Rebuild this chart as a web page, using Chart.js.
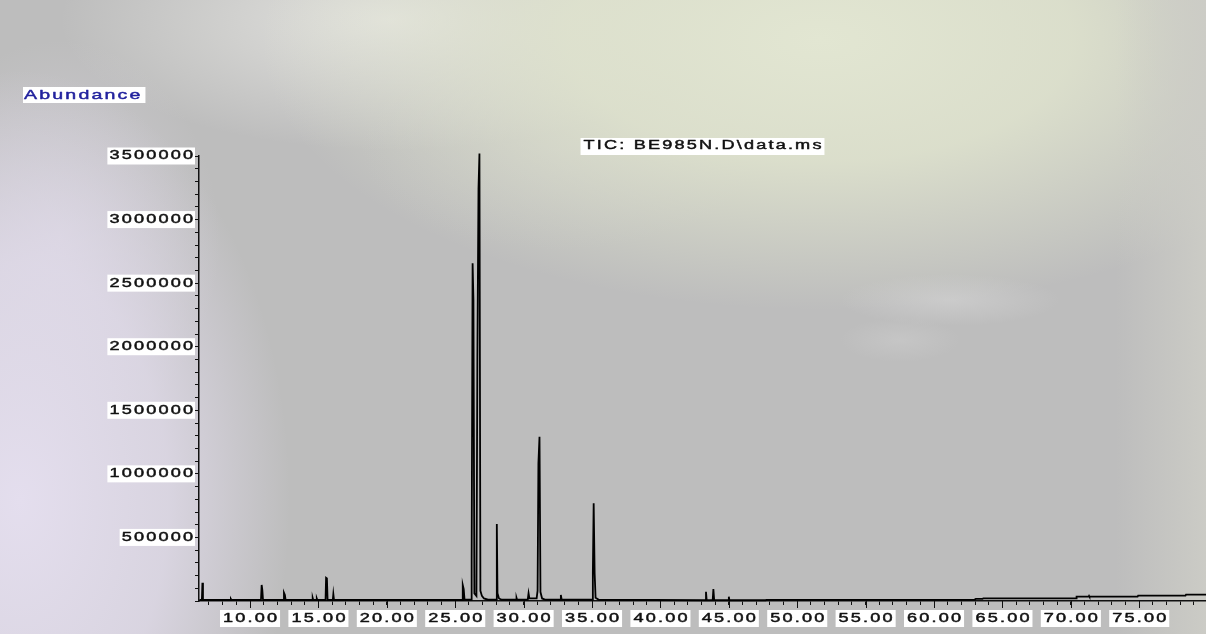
<!DOCTYPE html>
<html>
<head>
<meta charset="utf-8">
<title>TIC: BE985N.D\data.ms</title>
<script src="https://cdn.jsdelivr.net/npm/chart.js@4.4.1/dist/chart.umd.min.js"></script>
<style>
  html, body { margin: 0; padding: 0; width: 1206px; height: 634px; overflow: hidden; background: #bebebe; }
  #bg {
    position: absolute; left: 0; top: 0; width: 1206px; height: 634px;
    background:
      radial-gradient(ellipse 110px 26px at 950px 300px, rgba(214,214,214,0.55), rgba(214,214,214,0) 100%),
      radial-gradient(ellipse 60px 22px at 900px 340px, rgba(210,210,210,0.4), rgba(210,210,210,0) 100%),
      linear-gradient(to left, rgba(204,204,198,0.95) 0px, rgba(204,204,198,0) 90px),
      radial-gradient(ellipse 270px 430px at 20px 500px, rgba(228,222,238,1) 0%, rgba(226,220,236,0.75) 55%, rgba(226,220,236,0) 100%),
      radial-gradient(ellipse 160px 200px at 60px 240px, rgba(214,210,220,0.8), rgba(214,210,220,0) 100%),
      radial-gradient(ellipse 560px 270px at 820px 40px, rgba(226,230,210,1) 0%, rgba(224,228,206,0.85) 45%, rgba(224,228,206,0) 100%),
      radial-gradient(ellipse 330px 130px at 390px 20px, rgba(228,228,224,0.95) 0%, rgba(228,228,224,0) 100%),
      radial-gradient(ellipse 200px 100px at 560px 150px, rgba(200,200,198,0.6), rgba(200,200,198,0) 100%),
      #bdbdbd;
  }
  #chart { position: absolute; left: 0; top: 0; }
</style>
</head>
<body>
<div id="bg"></div>
<canvas id="chart" width="1206" height="634"></canvas>
<script>
// Total ion chromatogram: retention time (min) and abundance
const retentionTimes = [
  6.30, 6.48, 6.52, 6.56,
  8.56, 8.60, 8.64,
  10.80, 10.85, 10.90, 10.95,
  12.44, 12.48, 12.55, 12.60,
  14.54, 14.58, 14.62, 14.84, 14.88, 14.92,
  15.52, 15.56, 15.62, 15.67,
  16.05, 16.09, 16.14,
  25.50, 25.55, 25.62, 25.68,
  26.16, 26.20, 26.27, 26.33, 26.40, 26.55, 26.62, 26.70, 26.77, 26.84, 26.95, 27.10, 27.40,
  28.00, 28.04, 28.09, 28.20, 28.40,
  29.45, 29.48, 29.52,
  30.30, 30.36, 30.42,
  30.95, 31.02, 31.08, 31.16, 31.23, 31.35, 31.60,
  32.66, 32.72, 32.78,
  35.00, 35.06, 35.12, 35.19, 35.26, 35.50,
  43.28, 43.33, 43.38, 43.82, 43.87, 43.93,
  44.96, 45.00, 45.04,
  47.70, 47.75, 62.95, 63.05, 63.55, 63.60,
  70.38, 70.42, 71.30, 71.33, 71.36,
  74.88, 74.92, 78.38, 78.42, 79.88
];
const abundances = [
  8000, 8000, 144000, 8000,
  8000, 16000, 8000,
  8000, 126000, 86000, 8000,
  8000, 65000, 47000, 8000,
  8000, 24000, 8000, 8000, 20000, 8000,
  8000, 183000, 178000, 8000,
  8000, 55000, 8000,
  8000, 126000, 94000, 10000,
  10000, 314000, 2656000, 2370000, 60000, 40000, 1930000, 3240000, 3520000, 80000, 40000, 20000, 10000,
  10000, 605000, 60000, 20000, 10000,
  10000, 25000, 10000,
  10000, 60000, 20000,
  20000, 81000, 1083000, 1292000, 70000, 20000, 10000,
  10000, 47000, 10000,
  10000, 220000, 768000, 220000, 25000, 10000,
  6000, 73000, 6000, 6000, 94000, 6000,
  6000, 34000, 6000,
  6000, 9000, 9000, 16000, 16000, 21000,
  21000, 34000, 34000, 40000, 34000,
  34000, 42000, 42000, 50000, 50000
];
const xTickLabels = ['10.00', '15.00', '20.00', '25.00', '30.00', '35.00', '40.00',
                     '45.00', '50.00', '55.00', '60.00', '65.00', '70.00', '75.00'];
const yTickLabels = ['500000', '1000000', '1500000', '2000000', '2500000', '3000000', '3500000'];
const plotTitle = 'TIC: BE985N.D\\data.ms';
const yAxisName = 'Abundance';

// Wide, letter-spaced instrument-style lettering for every string on the canvas
const TEXT_SX = 1.45;
const TEXT_LS = 1.5;
const TEXT_WEIGHT = 0.45;
const canvas = document.getElementById('chart');
const ctx2d = canvas.getContext('2d');
const nativeFill = CanvasRenderingContext2D.prototype.fillText;
const nativeStroke = CanvasRenderingContext2D.prototype.strokeText;
const nativeMeasure = CanvasRenderingContext2D.prototype.measureText;
ctx2d.measureText = function (text) {
  text = String(text);
  this.save();
  try { this.letterSpacing = '0px'; } catch (e) {}
  const m = nativeMeasure.call(this, text);
  this.restore();
  const n = [...text].length;
  const w = n ? (m.width + TEXT_LS * (n - 1)) * TEXT_SX : 0;
  return {
    width: w,
    actualBoundingBoxAscent: m.actualBoundingBoxAscent,
    actualBoundingBoxDescent: m.actualBoundingBoxDescent,
    actualBoundingBoxLeft: 0,
    actualBoundingBoxRight: w
  };
};
ctx2d.fillText = function (text, x, y) {
  text = String(text);
  if (!text.length) return;
  const w = this.measureText(text).width;
  const a = this.textAlign;
  let left = x;
  if (a === 'center') left = x - w / 2;
  else if (a === 'right' || a === 'end') left = x - w;
  this.save();
  this.textAlign = 'left';
  try { this.letterSpacing = TEXT_LS + 'px'; } catch (e) {}
  this.translate(left, y);
  this.scale(TEXT_SX, 1);
  nativeFill.call(this, text, 0, 0);
  this.strokeStyle = this.fillStyle;
  this.lineWidth = TEXT_WEIGHT;
  this.lineJoin = 'round';
  nativeStroke.call(this, text, 0, 0);
  this.restore();
};

const FONT_FAMILY = "'Liberation Sans', Arial, sans-serif";

// White-boxed captions: trace name above the plot and the y-axis name
const captions = {
  id: 'captions',
  afterDraw(chart) {
    const ctx = chart.ctx;
    const area = chart.chartArea;
    ctx.save();
    ctx.textBaseline = 'middle';
    ctx.textAlign = 'center';
    ctx.font = '12.5px ' + FONT_FAMILY;
    let w = ctx.measureText(plotTitle).width;
    const cx = (area.left + area.right) / 2;
    const cy = area.top - 10;
    ctx.fillStyle = '#ffffff';
    ctx.fillRect(cx - w / 2 - 3, cy - 8, w + 6, 17);
    ctx.fillStyle = '#111111';
    ctx.fillText(plotTitle, cx, cy);

    ctx.textAlign = 'left';
    ctx.font = '13.5px ' + FONT_FAMILY;
    w = ctx.measureText(yAxisName).width;
    ctx.fillStyle = '#ffffff';
    ctx.fillRect(23, 87, w + 6, 16);
    ctx.fillStyle = '#22229e';
    ctx.fillText(yAxisName, 24, 95.5);
    ctx.restore();
  }
};

// Longer marks at the labelled retention times
const majorTicks = {
  id: 'majorTicks',
  afterDraw(chart) {
    const xs = chart.scales.x;
    const ctx = chart.ctx;
    ctx.save();
    ctx.strokeStyle = '#111111';
    ctx.lineWidth = 1;
    for (const lab of xTickLabels) {
      const px = Math.round(xs.getPixelForValue(parseFloat(lab))) + 0.5;
      ctx.beginPath();
      ctx.moveTo(px, xs.top);
      ctx.lineTo(px, xs.top + 7);
      ctx.stroke();
    }
    ctx.restore();
  }
};

const points = retentionTimes.map((t, i) => ({ x: t, y: abundances[i] }));

new Chart(ctx2d, {
  type: 'line',
  data: {
    datasets: [{
      label: plotTitle,
      data: points,
      borderColor: '#000000',
      borderWidth: 1.8,
      pointRadius: 0,
      tension: 0,
      fill: false,
      clip: false
    }]
  },
  options: {
    responsive: false,
    animation: false,
    devicePixelRatio: 1,
    layout: { padding: { top: 156, right: 0, bottom: 0, left: 0 } },
    plugins: {
      legend: { display: false },
      title: { display: false },
      tooltip: { enabled: false }
    },
    scales: {
      x: {
        type: 'linear',
        min: 6.27,
        max: 79.88,
        border: { display: true, color: '#111111', width: 1.5 },
        grid: { display: true, drawOnChartArea: false, drawTicks: true, tickLength: 4, tickColor: '#111111', tickWidth: 1 },
        ticks: {
          stepSize: 1,
          includeBounds: false,
          autoSkip: false,
          maxTicksLimit: 1000,
          minRotation: 0,
          maxRotation: 0,
          padding: 6,
          color: '#111111',
          font: { family: FONT_FAMILY, size: 12.5 },
          showLabelBackdrop: (c) => !!(c.tick && c.tick.label),
          backdropColor: '#ffffff',
          backdropPadding: { left: 3, right: 3, top: 1, bottom: 1 },
          callback: (v) => {
            const s = Number(v).toFixed(2);
            return xTickLabels.includes(s) ? s : '';
          }
        },
        afterFit: (s) => { s.height = 33; }
      },
      y: {
        type: 'linear',
        min: 0,
        max: 3500000,
        border: { display: true, color: '#111111', width: 1.5 },
        grid: { display: true, drawOnChartArea: false, drawTicks: true, tickLength: 4, tickColor: '#111111', tickWidth: 1 },
        ticks: {
          stepSize: 100000,
          autoSkip: false,
          maxTicksLimit: 1000,
          padding: 2,
          color: '#111111',
          font: { family: FONT_FAMILY, size: 12.5 },
          showLabelBackdrop: (c) => !!(c.tick && c.tick.label),
          backdropColor: '#ffffff',
          backdropPadding: { left: 2, right: 2, top: 1, bottom: 1 },
          callback: (v) => {
            const s = String(Math.round(v));
            return yTickLabels.includes(s) ? s : '';
          }
        },
        afterFit: (s) => { s.width = 199; }
      }
    }
  },
  plugins: [captions, majorTicks]
});
</script>
</body>
</html>
